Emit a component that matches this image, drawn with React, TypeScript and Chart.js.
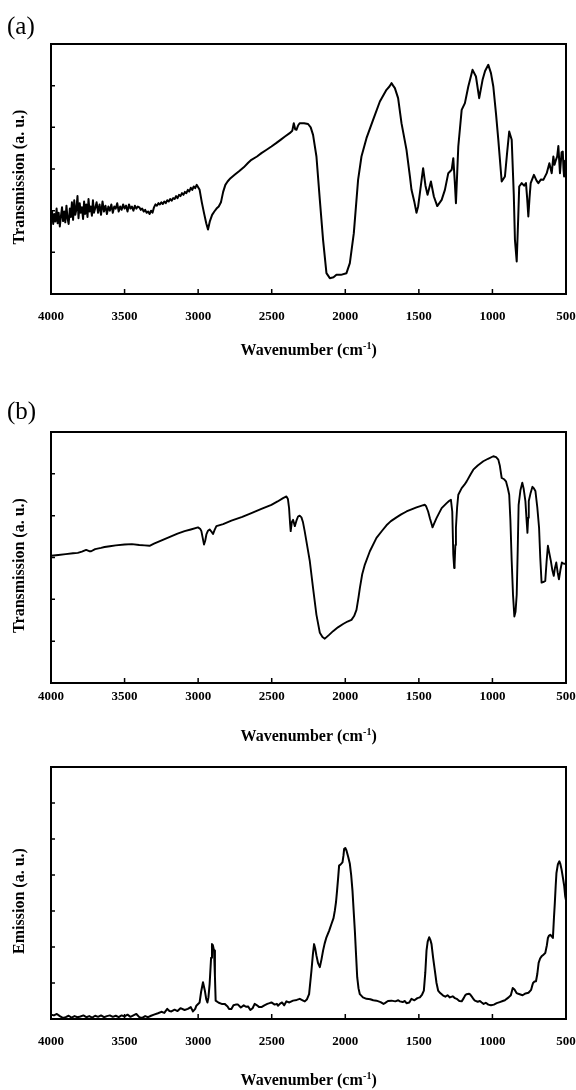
import { useEffect, useRef } from 'react';
import { Chart, registerables } from 'chart.js';

Chart.register(...registerables);

// ---------------- data ----------------
const xTickValues = [4000, 3500, 3000, 2500, 2000, 1500, 1000, 500];
const xTickLabels = ['4000', '3500', '3000', '2500', '2000', '1500', '1000', '500'];
const xTitleMain = 'Wavenumber (cm';
const xTitleSup = '-1';
const xTitleEnd = ')';
const yTitleTransmission = 'Transmission (a. u.)';
const yTitleEmission = 'Emission (a. u.)';
const panelLetters = ['(a)', '(b)', ''];

// panel (a): transmission
const wavenumbersA = [
  4000, 3993, 3985, 3978, 3970, 3962, 3955, 3948, 3940, 3932, 3925, 3918, 3910, 3903, 3895, 3888, 3880, 3872, 3865, 3858,
  3850, 3842, 3835, 3828, 3820, 3813, 3805, 3798, 3790, 3782, 3775, 3768, 3760, 3752, 3745, 3738, 3730, 3722, 3715, 3708,
  3700, 3690, 3680, 3670, 3660, 3650, 3640, 3630, 3620, 3610,
  3600, 3590, 3580, 3570, 3560, 3550, 3540, 3530, 3520, 3510, 3500, 3490, 3480, 3470, 3460, 3450, 3440, 3430, 3420, 3410,
  3400, 3390, 3380, 3370, 3360, 3350, 3340, 3330, 3320, 3310, 3300, 3290, 3280, 3270, 3260, 3250, 3240, 3230, 3220, 3210,
  3200, 3190, 3180, 3170, 3160, 3150, 3140, 3130, 3120, 3110, 3100, 3090, 3080, 3070, 3060, 3050, 3040, 3030, 3020, 3010,
  3000, 2990, 2975, 2960, 2945, 2933, 2920, 2905, 2890, 2875, 2860, 2845, 2830, 2815, 2800, 2780, 2752, 2720, 2690, 2660,
  2638, 2600, 2570, 2540, 2502, 2470, 2440, 2410, 2378, 2360, 2350, 2340, 2332, 2320, 2309, 2280, 2253, 2235, 2219, 2196,
  2173, 2151, 2128, 2105, 2080, 2060, 2030, 1992, 1969, 1942, 1913, 1890, 1856, 1811, 1765, 1720, 1700, 1686, 1675, 1663,
  1641, 1618, 1584, 1560, 1550, 1530, 1516, 1505, 1493, 1471, 1455, 1441, 1418, 1398, 1375, 1345, 1323, 1300, 1277, 1266,
  1256, 1248, 1232, 1209, 1187, 1164, 1135, 1112, 1090, 1067, 1050, 1028, 1010, 994, 975, 960, 937, 915, 900, 886,
  869, 855, 847, 835, 825, 818, 801, 785, 772, 764, 756, 748, 740, 718, 700, 688, 670, 654, 631, 613,
  597, 586, 578, 568, 560, 552, 546, 541, 530, 522, 517, 513, 506, 500,
];
const transmissionA = [
  1.80, 1.98, 1.68, 1.92, 1.74, 2.05, 1.70, 1.95, 1.62, 1.88, 2.08, 1.75, 1.98, 1.72, 2.12, 1.82, 1.68, 2.05, 1.85, 2.20,
  1.78, 2.25, 1.90, 2.02, 2.35, 1.82, 2.18, 1.95, 2.08, 1.80, 2.22, 1.92, 2.15, 1.85, 2.28, 1.98, 2.10, 1.88, 2.25, 1.95,
  2.05, 2.20, 1.95, 2.15, 1.90, 2.22, 1.98, 2.12, 1.92, 2.10,
  2.00, 2.15, 1.95, 2.10, 2.05, 2.18, 1.98, 2.10, 2.02, 2.15, 2.05, 2.12, 1.98, 2.15, 2.05, 2.10, 2.00, 2.12, 2.05, 2.10,
  2.08, 2.02, 2.05, 1.98, 2.02, 1.95, 1.98, 1.92, 2.00, 1.95, 2.08, 2.15, 2.12, 2.18, 2.15, 2.20, 2.16, 2.22, 2.18, 2.25,
  2.22, 2.28, 2.24, 2.30, 2.28, 2.35, 2.30, 2.38, 2.35, 2.42, 2.38, 2.45, 2.42, 2.50, 2.46, 2.55, 2.50, 2.58, 2.54, 2.62,
  2.56, 2.50, 2.20, 1.94, 1.70, 1.55, 1.75, 1.90, 1.98, 2.05, 2.10, 2.20, 2.45, 2.62, 2.70, 2.78, 2.86, 2.95, 3.04, 3.15,
  3.22, 3.30, 3.38, 3.45, 3.54, 3.62, 3.70, 3.78, 3.86, 3.92, 4.10, 3.95, 3.94, 4.05, 4.10, 4.10, 4.08, 4.00, 3.82, 3.30,
  2.26, 1.30, 0.50, 0.38, 0.40, 0.46, 0.46, 0.50, 0.74, 1.46, 2.74, 3.30, 3.74, 4.18, 4.62, 4.90, 4.98, 5.06, 5.00, 4.94,
  4.70, 4.10, 3.46, 2.80, 2.50, 2.20, 1.95, 2.10, 2.42, 3.02, 2.60, 2.38, 2.70, 2.34, 2.11, 2.26, 2.50, 2.90, 2.98, 3.26,
  2.70, 2.18, 3.54, 4.42, 4.58, 4.98, 5.38, 5.22, 4.70, 5.14, 5.35, 5.50, 5.30, 4.98, 4.30, 3.70, 2.70, 2.82, 3.40, 3.90,
  3.70, 2.40, 1.30, 0.78, 1.80, 2.58, 2.66, 2.60, 2.66, 2.30, 1.86, 2.30, 2.66, 2.86, 2.72, 2.66, 2.75, 2.74, 2.90, 3.14,
  2.90, 3.30, 3.10, 3.22, 3.30, 3.55, 3.20, 2.90, 3.40, 3.42, 3.00, 2.82, 3.20, 3.06,
];

// panel (b): transmission
const wavenumbersB = [
  4000, 3950, 3900, 3850, 3818, 3790, 3761, 3740, 3727, 3700, 3660, 3636, 3600, 3560, 3500, 3450, 3400, 3364, 3330, 3300,
  3260, 3228, 3180, 3140, 3092, 3050, 3001, 2985, 2978, 2968, 2960, 2952, 2944, 2933, 2922, 2910, 2899, 2888, 2876, 2830,
  2774, 2700, 2638, 2570, 2502, 2460, 2423, 2400, 2390, 2382, 2375, 2371, 2363, 2355, 2343, 2332, 2321, 2310, 2298, 2288,
  2276, 2260, 2241, 2219, 2196, 2173, 2155, 2139, 2110, 2083, 2050, 2015, 1985, 1958, 1940, 1924, 1910, 1901, 1885, 1867,
  1833, 1788, 1750, 1720, 1690, 1652, 1620, 1584, 1550, 1516, 1490, 1470, 1459, 1450, 1437, 1425, 1415, 1407, 1395, 1380,
  1360, 1345, 1311, 1295, 1282, 1273, 1266, 1260, 1257, 1252, 1248, 1240, 1232, 1209, 1190, 1175, 1150, 1130, 1100, 1062,
  1030, 994, 975, 960, 950, 937, 920, 908, 895, 886, 878, 869, 860, 851, 843, 835, 828, 822, 810, 797,
  788, 776, 768, 762, 757, 753, 740, 728, 718, 708, 695, 683, 675, 666, 650, 641, 632, 623, 613, 603,
  593, 583, 575, 566, 557, 548, 538, 528, 520, 511, 500,
];
const transmissionB = [
  3.04, 3.06, 3.08, 3.10, 3.11, 3.14, 3.18, 3.15, 3.15, 3.20, 3.23, 3.25, 3.27, 3.29, 3.31, 3.32, 3.30, 3.29, 3.28, 3.33,
  3.39, 3.44, 3.51, 3.57, 3.63, 3.67, 3.72, 3.68, 3.63, 3.45, 3.31, 3.40, 3.55, 3.64, 3.67, 3.62, 3.56, 3.66, 3.75, 3.80,
  3.88, 3.97, 4.06, 4.16, 4.26, 4.34, 4.42, 4.46, 4.40, 4.18, 3.80, 3.63, 3.85, 3.90, 3.75, 3.88, 3.98, 4.00, 3.96, 3.85,
  3.63, 3.30, 2.91, 2.27, 1.63, 1.20, 1.10, 1.06, 1.15, 1.24, 1.33, 1.41, 1.47, 1.51, 1.60, 1.75, 2.05, 2.27, 2.60, 2.83,
  3.15, 3.47, 3.64, 3.77, 3.87, 3.96, 4.03, 4.10, 4.15, 4.20, 4.23, 4.25, 4.26, 4.22, 4.10, 3.94, 3.82, 3.72, 3.82, 3.94,
  4.08, 4.18, 4.30, 4.35, 4.38, 4.10, 3.07, 2.75, 2.83, 3.30, 3.71, 4.20, 4.50, 4.66, 4.74, 4.82, 4.98, 5.10, 5.20, 5.30,
  5.36, 5.42, 5.40, 5.34, 5.20, 4.90, 4.87, 4.82, 4.65, 4.50, 3.90, 2.91, 2.10, 1.59, 1.70, 2.11, 3.20, 4.26, 4.60, 4.79,
  4.65, 4.35, 3.90, 3.59, 3.95, 4.35, 4.55, 4.69, 4.65, 4.59, 4.20, 3.71, 3.00, 2.40, 2.42, 2.44, 2.90, 3.28, 3.10, 2.92,
  2.70, 2.56, 2.75, 2.88, 2.65, 2.48, 2.70, 2.88, 2.86, 2.85, 2.85,
];

// panel (c): emission
const wavenumbersC = [
  4000, 3980, 3960, 3940, 3920, 3900, 3880, 3860, 3840, 3820, 3800, 3780, 3760, 3740, 3720, 3700, 3680, 3660, 3640, 3620,
  3600, 3580, 3560, 3540, 3520, 3500, 3480, 3460, 3440, 3420, 3400, 3380, 3360, 3340, 3320, 3300, 3273, 3250, 3230, 3210,
  3195, 3182, 3160, 3140, 3120, 3092, 3070, 3050, 3035, 3020, 3012, 2990, 2980, 2967, 2955, 2945, 2937, 2930, 2922, 2912,
  2906, 2900, 2892, 2886, 2881, 2860, 2840, 2820, 2800, 2790, 2774, 2760, 2745, 2729, 2710, 2690, 2675, 2661, 2645, 2630,
  2616, 2600, 2585, 2570, 2550, 2530, 2515, 2502, 2480, 2465, 2457, 2445, 2430, 2415, 2400, 2380, 2355, 2330, 2309, 2290,
  2275, 2260, 2246, 2230, 2220, 2212, 2204, 2196, 2185, 2173, 2162, 2151, 2140, 2128, 2110, 2094, 2080, 2071, 2063, 2056,
  2048, 2042, 2030, 2019, 2012, 2008, 2000, 1992, 1980, 1969, 1960, 1951, 1943, 1935, 1927, 1919, 1910, 1901, 1880, 1856,
  1830, 1810, 1788, 1760, 1740, 1731, 1710, 1686, 1660, 1640, 1629, 1610, 1595, 1584, 1565, 1550, 1530, 1510, 1493, 1478,
  1466, 1456, 1448, 1440, 1430, 1422, 1414, 1403, 1391, 1380, 1369, 1355, 1335, 1320, 1305, 1289, 1270, 1255, 1243, 1225,
  1209, 1195, 1185, 1175, 1160, 1153, 1140, 1128, 1119, 1100, 1085, 1073, 1060, 1045, 1028, 1010, 990, 971, 950, 930,
  915, 903, 890, 875, 862, 850, 836, 824, 810, 795, 775, 755, 737, 730, 724, 714, 704, 695, 686, 676,
  666, 655, 641, 630, 623, 615, 607, 598, 589, 582, 576, 570, 565, 555, 545, 538, 530, 520, 512, 505,
  500,
];
const emissionC = [
  0.12, 0.10, 0.14, 0.08, 0.03, 0.05, 0.09, 0.04, 0.08, 0.05, 0.07, 0.10, 0.05, 0.08, 0.04, 0.09, 0.06, 0.10, 0.05, 0.08,
  0.10, 0.06, 0.09, 0.05, 0.10, 0.07, 0.12, 0.06, 0.10, 0.14, 0.05, 0.03, 0.08, 0.05, 0.09, 0.12, 0.16, 0.20, 0.17, 0.28,
  0.22, 0.21, 0.26, 0.22, 0.30, 0.25, 0.28, 0.33, 0.21, 0.28, 0.37, 0.46, 0.75, 1.02, 0.80, 0.55, 0.46, 0.60, 0.97, 1.70,
  2.08, 2.05, 1.90, 1.20, 0.51, 0.45, 0.42, 0.42, 0.35, 0.28, 0.28, 0.38, 0.40, 0.40, 0.32, 0.38, 0.34, 0.35, 0.25, 0.30,
  0.42, 0.38, 0.33, 0.33, 0.38, 0.42, 0.44, 0.46, 0.40, 0.42, 0.37, 0.42, 0.46, 0.38, 0.49, 0.46, 0.51, 0.53, 0.56, 0.52,
  0.49, 0.55, 0.69, 1.34, 1.80, 2.08, 1.95, 1.76, 1.55, 1.44, 1.65, 1.90, 2.10, 2.27, 2.45, 2.64, 2.80, 3.01, 3.25, 3.56,
  3.95, 4.26, 4.30, 4.35, 4.55, 4.72, 4.75, 4.68, 4.50, 4.31, 4.00, 3.56, 3.00, 2.45, 1.80, 1.16, 0.85, 0.69, 0.60, 0.56,
  0.55, 0.52, 0.51, 0.47, 0.42, 0.44, 0.50, 0.51, 0.49, 0.52, 0.49, 0.47, 0.50, 0.44, 0.46, 0.56, 0.52, 0.58, 0.60, 0.68,
  0.79, 1.30, 1.90, 2.15, 2.27, 2.20, 2.08, 1.70, 1.34, 1.00, 0.79, 0.72, 0.65, 0.62, 0.66, 0.60, 0.63, 0.58, 0.56, 0.50,
  0.49, 0.58, 0.66, 0.69, 0.70, 0.69, 0.62, 0.55, 0.51, 0.48, 0.50, 0.46, 0.42, 0.45, 0.40, 0.38, 0.40, 0.44, 0.47, 0.50,
  0.52, 0.56, 0.60, 0.66, 0.86, 0.82, 0.72, 0.70, 0.68, 0.66, 0.71, 0.73, 0.81, 0.92, 1.00, 1.04, 1.05, 1.25, 1.56, 1.68,
  1.74, 1.78, 1.83, 2.05, 2.25, 2.32, 2.34, 2.30, 2.25, 2.80, 3.22, 3.70, 4.05, 4.30, 4.38, 4.30, 4.15, 3.90, 3.69, 3.40,
  3.30,
];

// ---------------- styling ----------------
const SERIF = "'Liberation Serif', 'Times New Roman', Times, serif";

type PanelCfg = {
  top: number;
  height: number;
  padTop: number;
  axisH: number;
  tickPad: number;
  yMax: number;
  yTitle: string;
  letter: string;
  letterBaseline: number;
  titleBaseline: number;
  lineWidth: number;
  xs: number[];
  ys: number[];
};

const panels: PanelCfg[] = [
  { top: 0, height: 362, padTop: 44, axisH: 68, tickPad: 14.6, yMax: 6, yTitle: yTitleTransmission, letter: panelLetters[0], letterBaseline: 34, titleBaseline: 355, lineWidth: 2, xs: wavenumbersA, ys: transmissionA },
  { top: 362, height: 383, padTop: 70, axisH: 62, tickPad: 5.5, yMax: 6, yTitle: yTitleTransmission, letter: panelLetters[1], letterBaseline: 57, titleBaseline: 379, lineWidth: 1.9, xs: wavenumbersB, ys: transmissionB },
  { top: 745, height: 345, padTop: 22, axisH: 71, tickPad: 14.9, yMax: 7, yTitle: yTitleEmission, letter: panelLetters[2], letterBaseline: 0, titleBaseline: 340, lineWidth: 2, xs: wavenumbersC, ys: emissionC },
];

function makeDecor(cfg: PanelCfg) {
  return {
    id: 'decor',
    afterDraw(chart: any) {
      const { ctx, chartArea: a, scales } = chart;
      ctx.save();
      ctx.strokeStyle = '#000';
      ctx.fillStyle = '#000';
      // frame
      ctx.lineWidth = 2;
      ctx.strokeRect(a.left, a.top, a.right - a.left, a.bottom - a.top);
      // inward ticks
      ctx.lineWidth = 1.5;
      ctx.beginPath();
      scales.x.ticks.forEach((t: any) => {
        const px = scales.x.getPixelForValue(t.value);
        ctx.moveTo(px, a.bottom);
        ctx.lineTo(px, a.bottom - 5);
      });
      scales.y.ticks.forEach((t: any) => {
        const py = scales.y.getPixelForValue(t.value);
        ctx.moveTo(a.left, py);
        ctx.lineTo(a.left + 4, py);
      });
      ctx.stroke();
      // y title
      ctx.save();
      ctx.translate(19.5, (a.top + a.bottom) / 2 + 8);
      ctx.rotate(-Math.PI / 2);
      ctx.font = `bold 16px ${SERIF}`;
      ctx.textAlign = 'center';
      ctx.textBaseline = 'middle';
      ctx.fillText(cfg.yTitle, 0, 0);
      ctx.restore();
      // x title with superscript
      ctx.textAlign = 'left';
      ctx.textBaseline = 'alphabetic';
      ctx.font = `bold 16px ${SERIF}`;
      const w1 = ctx.measureText(xTitleMain).width;
      const w3 = ctx.measureText(xTitleEnd).width;
      ctx.font = `bold 10px ${SERIF}`;
      const w2 = ctx.measureText(xTitleSup).width;
      const x0 = (a.left + a.right) / 2 - (w1 + w2 + w3) / 2;
      ctx.font = `bold 16px ${SERIF}`;
      ctx.fillText(xTitleMain, x0, cfg.titleBaseline);
      ctx.fillText(xTitleEnd, x0 + w1 + w2 + 0.5, cfg.titleBaseline);
      ctx.font = `bold 10px ${SERIF}`;
      ctx.fillText(xTitleSup, x0 + w1 + 0.3, cfg.titleBaseline - 6.5);
      // panel letter
      if (cfg.letter) {
        ctx.font = `25px ${SERIF}`;
        ctx.fillText(cfg.letter, 7, cfg.letterBaseline);
      }
      ctx.restore();
    },
  };
}

function Panel({ cfg }: { cfg: PanelCfg }) {
  const ref = useRef<HTMLCanvasElement | null>(null);
  useEffect(() => {
    if (!ref.current) return;
    const points = cfg.xs.map((x, i) => ({ x, y: cfg.ys[i] }));
    const chart = new Chart(ref.current, {
      type: 'line',
      data: {
        datasets: [
          {
            data: points,
            borderColor: '#000',
            borderWidth: cfg.lineWidth,
            pointRadius: 0,
            tension: 0,
            fill: false,
            borderJoinStyle: 'round',
          } as any,
        ],
      },
      options: {
        animation: false,
        responsive: false,
        events: [],
        layout: { padding: { left: 0, right: 10, top: cfg.padTop, bottom: 0 } },
        plugins: { legend: { display: false }, tooltip: { enabled: false }, title: { display: false } },
        scales: {
          x: {
            type: 'linear',
            reverse: true,
            min: 500,
            max: 4000,
            afterBuildTicks: (s: any) => {
              s.ticks = xTickValues.map((v) => ({ value: v }));
            },
            ticks: {
              autoSkip: false,
              maxRotation: 0,
              minRotation: 0,
              padding: cfg.tickPad,
              color: '#000',
              font: { family: SERIF, size: 13, weight: 'bold' },
              callback: (v: any) => {
                const i = xTickValues.indexOf(Number(v));
                return i >= 0 ? xTickLabels[i] : '';
              },
            },
            grid: { display: false, drawTicks: false },
            border: { display: false },
            afterFit: (s: any) => {
              s.height = cfg.axisH;
              s.paddingLeft = 0;
              s.paddingRight = 0;
            },
          } as any,
          y: {
            type: 'linear',
            min: 0,
            max: cfg.yMax,
            ticks: { display: false, stepSize: 1 },
            grid: { display: false, drawTicks: false },
            border: { display: false },
            afterFit: (s: any) => {
              s.width = 51;
            },
          } as any,
        },
      },
      plugins: [makeDecor(cfg)],
    });
    return () => chart.destroy();
  }, [cfg]);
  return (
    <canvas
      ref={ref}
      width={576}
      height={cfg.height}
      style={{ position: 'absolute', left: 0, top: cfg.top, width: 576, height: cfg.height, display: 'block' }}
    />
  );
}

export default function App() {
  return (
    <div style={{ position: 'absolute', left: 0, top: 0, width: 576, height: 1090, background: '#fff', overflow: 'hidden' }}>
      {panels.map((p, i) => (
        <Panel key={i} cfg={p} />
      ))}
    </div>
  );
}
